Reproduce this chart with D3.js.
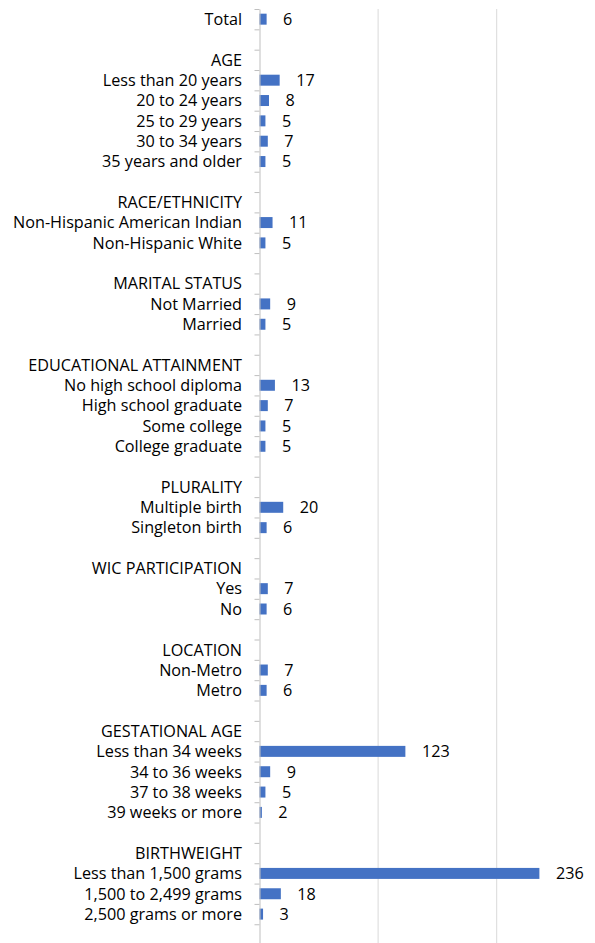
<!DOCTYPE html>
<html>
<head>
<meta charset="utf-8">
<script src="https://cdn.jsdelivr.net/npm/d3@7"></script>
<style>
  html, body { margin: 0; padding: 0; background: #fff; }
  svg { display: block; }
  text { font-family: "Open Sans", Lato, sans-serif; fill: #000; }
</style>
</head>
<body>
<div id="chart"></div>
<script>
const labels = ["Total", "", "AGE", "Less than 20 years", "20 to 24 years", "25 to 29 years", "30 to 34 years", "35 years and older", "", "RACE/ETHNICITY", "Non-Hispanic American Indian", "Non-Hispanic White", "", "MARITAL STATUS", "Not Married", "Married", "", "EDUCATIONAL ATTAINMENT", "No high school diploma", "High school graduate", "Some college", "College graduate", "", "PLURALITY", "Multiple birth", "Singleton birth", "", "WIC PARTICIPATION", "Yes", "No", "", "LOCATION", "Non-Metro", "Metro", "", "GESTATIONAL AGE", "Less than 34 weeks", "34 to 36 weeks", "37 to 38 weeks", "39 weeks or more", "", "BIRTHWEIGHT", "Less than 1,500 grams", "1,500 to 2,499 grams", "2,500 grams or more", ""];
const values = [6, null, null, 17, 8, 5, 7, 5, null, null, 11, 5, null, null, 9, 5, null, null, 13, 7, 5, 5, null, null, 20, 6, null, null, 7, 6, null, null, 7, 6, null, null, 123, 9, 5, 2, null, null, 236, 18, 3, null];
const gridTicks = [100, 200, 300];

const W = 595, H = 943;
const x0 = 259.5, xMaxPx = 615.3, yTop = 9, yBot = 944.6;
const FS = 16.2;

const svg = d3.select("#chart").append("svg").attr("width", W).attr("height", H);

const idx = d3.range(labels.length);
const x = d3.scaleLinear().domain([0, 300]).range([x0, xMaxPx]);
const y = d3.scaleBand().domain(idx).range([yTop, yBot]).paddingInner(0.46).paddingOuter(0.23);
const yb = d3.scaleLinear().domain([0, labels.length]).range([yTop, yBot]);

// gridlines
svg.append("g").selectAll("line").data(gridTicks).join("line")
  .attr("x1", d => x(d)).attr("x2", d => x(d))
  .attr("y1", yTop).attr("y2", yBot)
  .attr("stroke", "#d9d9d9").attr("stroke-width", 1);

// bars
const rows = idx.map(i => ({ i, label: labels[i], value: values[i] }));
svg.append("g").selectAll("rect").data(rows.filter(d => d.value != null)).join("rect")
  .attr("x", x(0))
  .attr("y", d => y(d.i))
  .attr("width", d => x(d.value) - x(0))
  .attr("height", y.bandwidth())
  .attr("fill", "#4472c4");

// value labels
svg.append("g").selectAll("text").data(rows.filter(d => d.value != null)).join("text")
  .attr("x", d => x(d.value) + 16.5)
  .attr("y", d => y(d.i) + y.bandwidth() / 2)
  .attr("dy", "0.36em")
  .attr("font-size", FS)
  .text(d => d.value);

// y axis with ticks at band boundaries
const axis = d3.axisLeft(yb).tickValues(d3.range(0, labels.length + 1)).tickFormat("").tickSize(5).tickSizeOuter(0);
const ag = svg.append("g").attr("transform", `translate(${x0},0)`).call(axis);
ag.select(".domain").attr("stroke", "#bfbfbf");
ag.selectAll(".tick line").attr("stroke", "#bfbfbf");

// category labels
svg.append("g").selectAll("text").data(rows.filter(d => d.label !== "")).join("text")
  .attr("x", 242)
  .attr("y", d => y(d.i) + y.bandwidth() / 2)
  .attr("dy", "0.36em")
  .attr("text-anchor", "end")
  .attr("font-size", FS)
  .text(d => d.label);
</script>
</body>
</html>
